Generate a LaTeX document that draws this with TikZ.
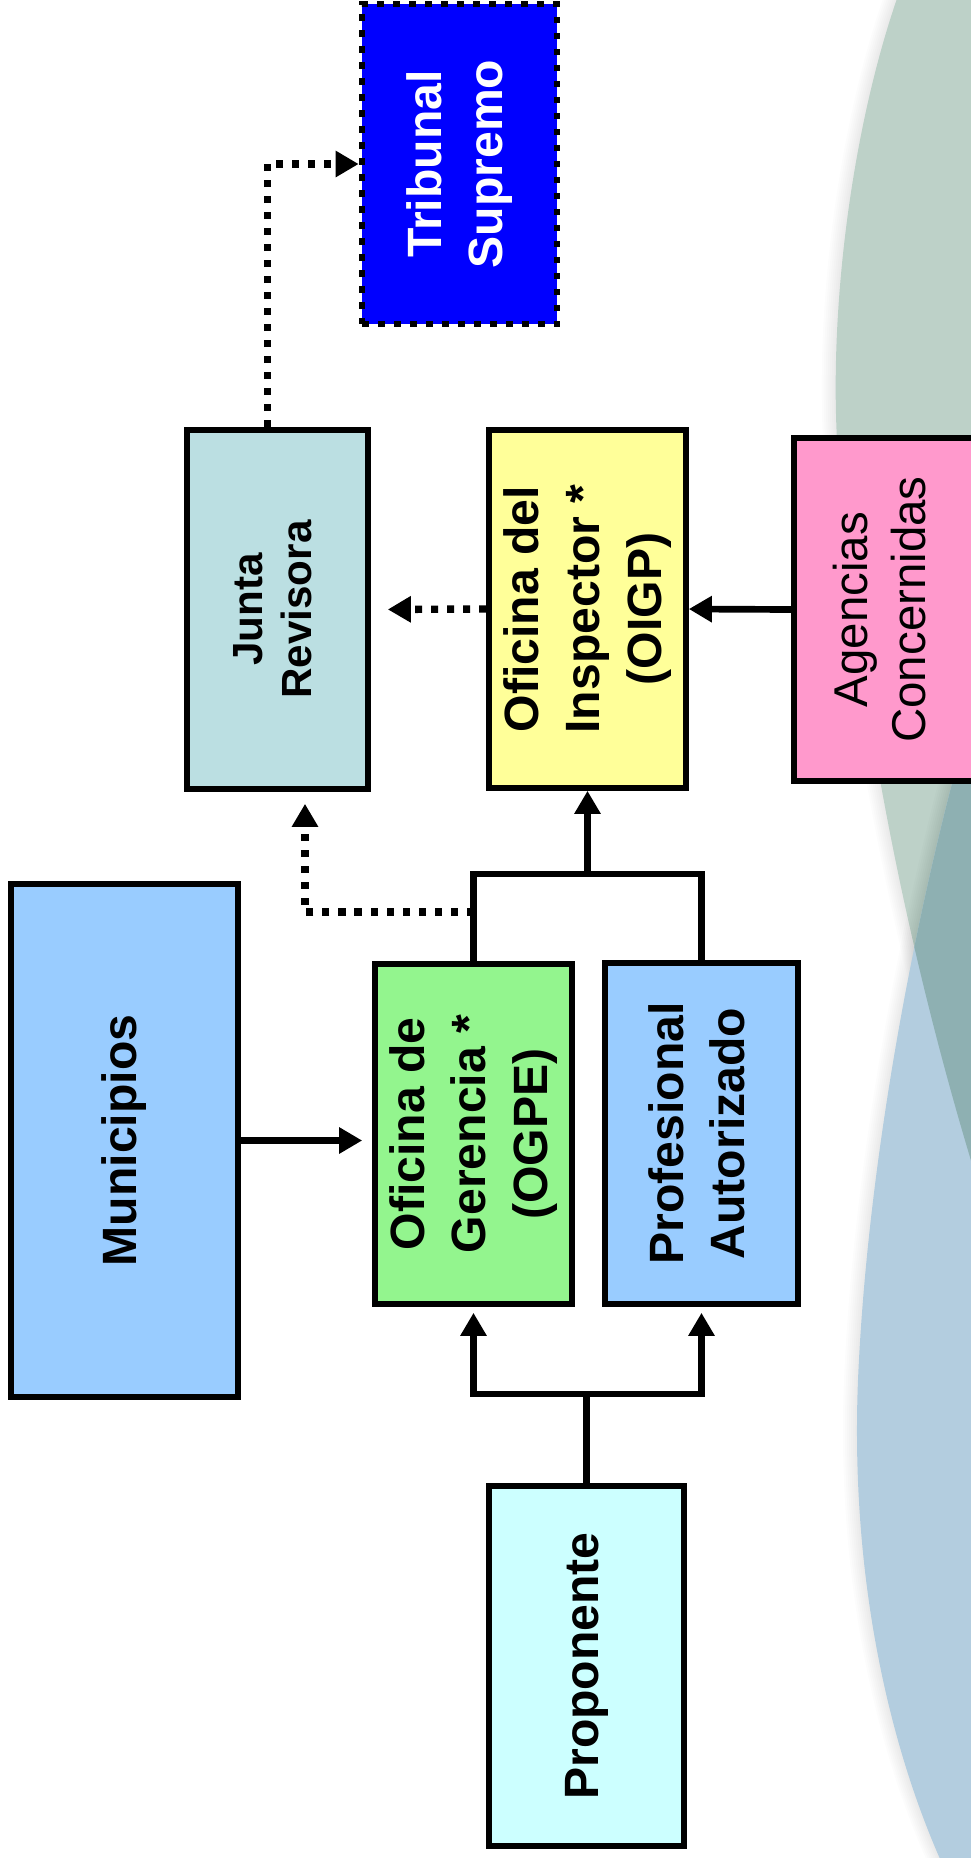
\documentclass[tikz,border=0pt]{standalone}
\usepackage{fontspec}
\setmainfont{Liberation Sans}
\usetikzlibrary{arrows.meta,positioning,calc}

\definecolor{bgGreen}{HTML}{BDD1C8}
\definecolor{bgBlue}{HTML}{B3CDDF}
\definecolor{bgTeal}{HTML}{8EB0B2}
\definecolor{juntaFill}{HTML}{BBDFE2}
\definecolor{oigpFill}{HTML}{FFFF99}
\definecolor{agenFill}{HTML}{FF99CC}
\definecolor{muniFill}{HTML}{99CCFF}
\definecolor{ogpeFill}{HTML}{93F58E}
\definecolor{propFill}{HTML}{CCFFFF}

\newcommand{\vtext}[1]{\rotatebox{90}{\begin{tabular}{@{}c@{}}#1\end{tabular}}}
\newcommand{\greenpath}{(9.00,-0.10) .. controls (8.50,1.30) and (8.25,3.30) .. (8.40,4.80)
	.. controls (8.55,6.50) and (8.90,9.00) .. (9.80,11.90) -- (9.95,11.90) -- (9.95,-0.10) -- cycle}
\newcommand{\bluepath}{(9.95,6.40) .. controls (9.45,7.80) and (8.70,11.00) .. (8.58,13.80)
	.. controls (8.50,15.80) and (8.90,17.50) .. (9.45,18.70) -- (9.95,18.70) -- cycle}

\begin{document}
\begin{tikzpicture}[x=1cm,y=-1cm,
	box/.style={draw=black, line width=1.6pt, inner sep=0pt, font=\bfseries\fontsize{13.7}{17.5}\selectfont},
	conn/.style={line width=1.9pt},
	arr/.style={conn, -{Triangle[length=0.23cm,width=0.25cm]}},
	dotarr/.style={arr, line width=2.1pt, dash pattern=on 0.07cm off 0.09cm}]
			\useasboundingbox (0,0) rectangle (9.71,18.58);
			
			% Background
			\begin{scope}
				\clip (0,0) rectangle (9.71,18.58);
				\foreach \s in {0.14,0.12,0.10,0.08,0.06,0.04,0.02}
					\fill[black, opacity=0.012, xshift=-\s cm] \greenpath;
				\fill[bgGreen] \greenpath;
				\foreach \s in {0.14,0.12,0.10,0.08,0.06,0.04,0.02}
					\fill[black, opacity=0.012, xshift=-\s cm] \bluepath;
				\fill[bgBlue] \bluepath;
				\clip \greenpath;
				\fill[bgTeal] \bluepath;
			\end{scope}
			
			% Boxes
			\node[box, fill=blue, text=white, line width=1.9pt, dash pattern=on 0.065cm off 0.095cm, minimum width=1.95cm, minimum height=3.20cm] (tribunal) at (4.595,1.64) {\vtext{Tribunal\\Supremo}};
			\node[box, fill=juntaFill, minimum width=1.81cm, minimum height=3.59cm, font=\bfseries\fontsize{12}{14}\selectfont] (junta) at (2.775,6.095) {\vtext{Junta\\Revisora}};
			\node[box, fill=oigpFill, minimum width=1.97cm, minimum height=3.58cm] (oigp) at (5.875,6.09) {\vtext{Oficina del\\Inspector *\\(OIGP)}};
			\node[box, fill=agenFill, minimum width=1.82cm, minimum height=3.43cm, font=\fontsize{13.5}{16.5}\selectfont] (agencias) at (8.85,6.095) {\vtext{Agencias\\Concernidas}};
			\node[box, fill=muniFill, minimum width=2.27cm, minimum height=5.13cm] (municipios) at (1.245,11.405) {\vtext{Municipios}};
			\node[box, fill=ogpeFill, minimum width=1.97cm, minimum height=3.40cm] (ogpe) at (4.735,11.34) {\vtext{Oficina de\\Gerencia *\\(OGPE)}};
			\node[box, fill=muniFill, minimum width=1.93cm, minimum height=3.41cm] (prof) at (7.015,11.335) {\vtext{Profesional\\Autorizado}};
			\node[box, fill=propFill, minimum width=1.95cm, minimum height=3.60cm] (proponente) at (5.865,16.66) {\vtext{Proponente}};
			
			% Junctions
			\coordinate (jup) at (oigp.south |- 0,8.74);
			\coordinate (jmid) at (ogpe.north |- 0,9.12);
			\coordinate (jlow) at (proponente.north |- 0,13.94);
			
			% Solid connectors
			\draw[conn] (ogpe.north) -- (ogpe.north |- jup) -- (prof.north |- jup) -- (prof.north);
			\draw[arr] (jup) -- (oigp.south);
			\draw[arr] (agencias.west) -- (oigp.east);
			\draw[arr, shorten >=0.1cm] (municipios.east) -- (ogpe.west |- municipios.east);
			\draw[conn] (proponente.north) -- (jlow);
			\draw[arr, shorten >=0.06cm] (jlow) -| (ogpe.south);
			\draw[arr, shorten >=0.06cm] (jlow) -| (prof.south);
			
			% Dotted connectors
			\draw[dotarr, shorten >=0.12cm] (jmid) -| ([xshift=0.275cm]junta.south);
			\draw[dotarr, shorten >=0.17cm] (oigp.west) -- (junta.east);
			\draw[dotarr] ([xshift=-0.1cm]junta.north) |- (tribunal.west);
		\end{tikzpicture}
\end{document}
